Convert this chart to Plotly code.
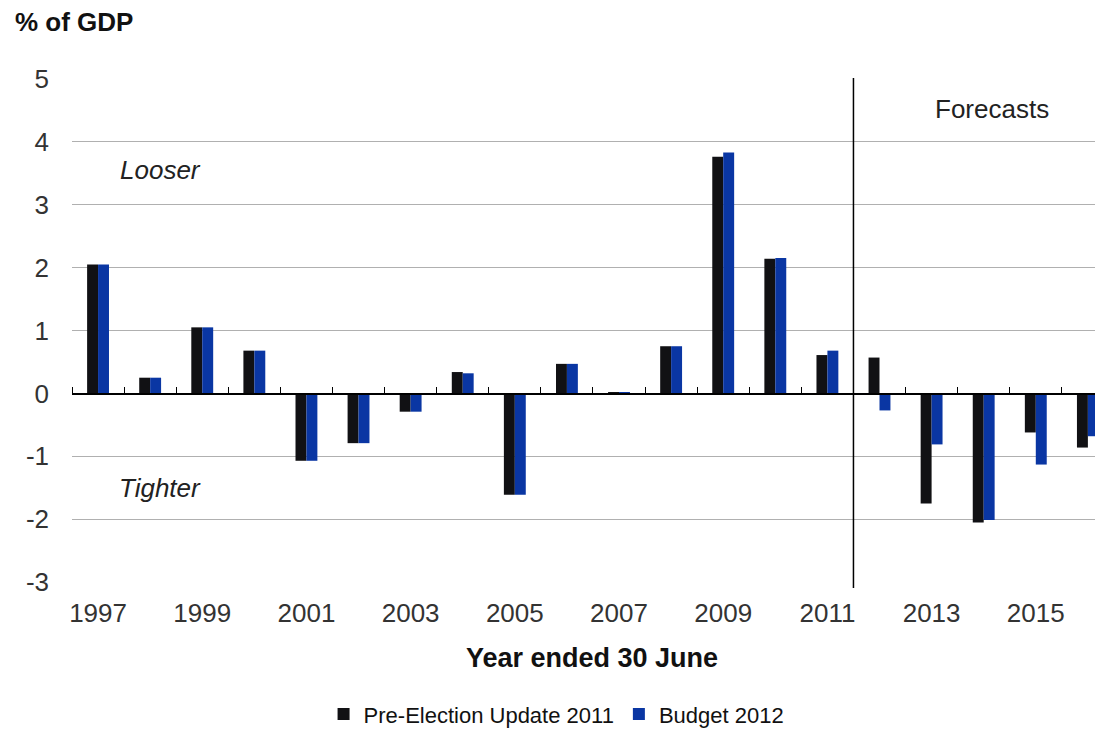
import plotly.graph_objects as go

years = list(range(1997, 2017))
pre_election_2011 = [2.05, 0.25, 1.05, 0.68, -1.07, -0.79, -0.29, 0.34, -1.61, 0.47,
                     0.01, 0.75, 3.76, 2.14, 0.61, 0.57, -1.75, -2.05, -0.62, -0.86]
budget_2012 = [2.05, 0.25, 1.05, 0.68, -1.07, -0.79, -0.29, 0.32, -1.61, 0.47,
               0.01, 0.75, 3.83, 2.15, 0.68, -0.27, -0.81, -2.01, -1.13, -0.68]
tick_years = list(range(1997, 2016, 2))
y_ticks = [5, 4, 3, 2, 1, 0, -1, -2, -3]
y_tick_text = ["5", "4", "3", "2", "1", "0", "-1", "-2", "-3"]
boundaries = [y - 0.5 for y in range(1997, 2018)]
forecast_start = 2011.5

FONT = "Liberation Sans, Arial, sans-serif"
BLACK = "#111114"
BLUE = "#0a36a3"

fig = go.Figure()
fig.add_trace(go.Bar(x=years, y=pre_election_2011, name="Pre-Election Update 2011",
                     marker=dict(color=BLACK, line=dict(width=0))))
fig.add_trace(go.Bar(x=years, y=budget_2012, name="Budget 2012",
                     marker=dict(color=BLUE, line=dict(width=0))))

# invisible trace to carry the zero-line tick axis
fig.add_trace(go.Scatter(x=[years[0]], y=[0], xaxis="x2", mode="markers",
                         marker=dict(opacity=0), showlegend=False, hoverinfo="skip"))

# the page body has an 8px default margin, so the figure is sized to fit the window
fig.update_layout(
    width=1095, height=721,
    margin=dict(l=64, r=0, t=70, b=146, autoexpand=False),
    paper_bgcolor="white", plot_bgcolor="white",
    barmode="group", bargap=0.58, bargroupgap=0,
    font=dict(family=FONT, color="#333333", size=26),
    xaxis=dict(range=[1996.5, 2016.29], tickmode="array", tickvals=tick_years,
               ticktext=[str(t) for t in tick_years], showgrid=False, zeroline=False,
               showline=False, ticks="", ticklabelstandoff=12, automargin=False,
               tickfont=dict(size=26, color="#333333")),
    xaxis2=dict(range=[1996.5, 2016.29], overlaying="x", anchor="free", position=0.375,
                side="top", showline=True, linecolor="#000000", linewidth=2,
                ticks="outside", tickvals=boundaries, ticklen=6, tickcolor="#000000",
                tickwidth=1, showticklabels=False, showgrid=False, zeroline=False,
                automargin=False),
    yaxis=dict(range=[-3.012, 5.012], tickmode="array", tickvals=y_ticks,
               ticktext=y_tick_text, showgrid=True, gridcolor="#b0b0b0",
               gridwidth=1, zeroline=False, showline=False, ticks="", automargin=False,
               ticklabelstandoff=22, tickfont=dict(size=26, color="#333333")),
    legend=dict(orientation="h", x=0.47, xanchor="center", y=-0.26, yanchor="middle",
                font=dict(size=22, color="#111111"), itemwidth=30, traceorder="normal"),
    showlegend=True,
)

fig.add_shape(type="line", xref="x", yref="paper", x0=forecast_start, x1=forecast_start,
              y0=-0.01, y1=1, line=dict(color="#000000", width=1.5))

fig.add_annotation(text="% of GDP", xref="paper", yref="paper", x=-0.057, y=1.11,
                   xanchor="left", yanchor="middle", showarrow=False,
                   font=dict(size=26, color="#111111", family=FONT, weight="bold"))
fig.add_annotation(text="Year ended 30 June", xref="paper", yref="paper", x=0.504, y=-0.148,
                   xanchor="center", yanchor="middle", showarrow=False,
                   font=dict(size=27, color="#111111", family=FONT, weight="bold"))
fig.add_annotation(text="<i>Looser</i>", xref="x", yref="y", x=1997.38, y=3.55,
                   xanchor="left", yanchor="middle", showarrow=False,
                   font=dict(size=26, color="#222222", family=FONT))
fig.add_annotation(text="<i>Tighter</i>", xref="x", yref="y", x=1997.36, y=-1.5,
                   xanchor="left", yanchor="middle", showarrow=False,
                   font=dict(size=26, color="#222222", family=FONT))
fig.add_annotation(text="Forecasts", xref="x", yref="y", x=2014.15, y=4.52,
                   xanchor="center", yanchor="middle", showarrow=False,
                   font=dict(size=26, color="#222222", family=FONT))

fig.write_html("out.html")
